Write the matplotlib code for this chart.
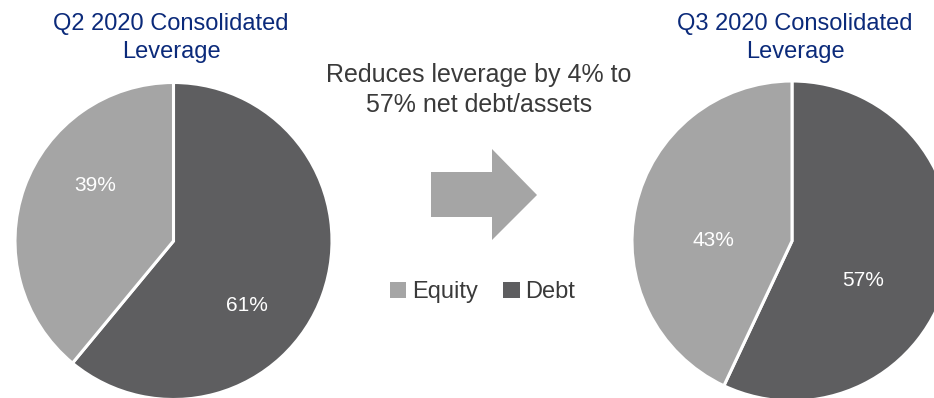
import matplotlib
matplotlib.use("Agg")
import matplotlib.pyplot as plt
from matplotlib.patches import Polygon, Patch

plt.rcParams['font.family'] = ['Liberation Sans', 'DejaVu Sans']

# Leverage split (percent of net debt/assets)
categories = ["Equity", "Debt"]
q2_values = [39, 61]
q3_values = [43, 57]
titles = ["Q2 2020 Consolidated\nLeverage", "Q3 2020 Consolidated\nLeverage"]
headline = "Reduces leverage by 4% to\n57% net debt/assets"

EQUITY_C = "#A5A5A5"
DEBT_C = "#5E5E60"
TITLE_C = "#0B2A7A"
TEXT_C = "#3A3A3A"

W, H = 934, 398
fig = plt.figure(figsize=(W / 100, H / 100), dpi=100)

# overlay axes in pixel units for the annotation graphics
over = fig.add_axes([0, 0, 1, 1])
over.set_xlim(0, W)
over.set_ylim(H, 0)
over.axis("off")


def pie_axes(cx, cy, r):
    return fig.add_axes([(cx - r) / W, (H - (cy + r)) / H, 2 * r / W, 2 * r / H])


def draw_pie(ax, values, label_pos):
    equity, debt = values
    ax.pie([debt, equity], colors=[DEBT_C, EQUITY_C], startangle=90,
           counterclock=False, radius=1,
           wedgeprops=dict(edgecolor="white", linewidth=2.2))
    ax.set_xlim(-1, 1)
    ax.set_ylim(-1, 1)
    for (x, y), v in zip(label_pos, [equity, debt]):
        ax.text(x, y, f"{v}%", color="white", fontsize=15,
                ha="center", va="center")


ax1 = pie_axes(173.5, 241, 158.5)
draw_pie(ax1, q2_values, [(-0.495, 0.353), (0.464, -0.404)])
ax2 = pie_axes(792, 241, 160)
draw_pie(ax2, q3_values, [(-0.494, 0.006), (0.444, -0.25)])

# titles above each pie
over.text(171, 38, titles[0], color=TITLE_C, fontsize=17, ha="center",
          va="center", linespacing=1.35)
over.text(795, 38, titles[1], color=TITLE_C, fontsize=17, ha="center",
          va="center", linespacing=1.35)

# headline between the pies
over.text(479, 90, headline, color=TEXT_C, fontsize=18, ha="center",
          va="center", linespacing=1.27)

# block arrow
arrow = Polygon([(431, 172), (492, 172), (492, 149), (537, 195),
                 (492, 240), (492, 217), (431, 217)],
                closed=True, facecolor=EQUITY_C, edgecolor="none")
over.add_patch(arrow)

# legend
handles = [Patch(facecolor=EQUITY_C, edgecolor="none"),
           Patch(facecolor=DEBT_C, edgecolor="none")]
fig.legend(handles, categories, loc="center", ncol=2, frameon=False,
           bbox_to_anchor=(482.5 / W, 1 - 292 / H), fontsize=17,
           handlelength=0.68, handleheight=0.68, handletextpad=0.25,
           columnspacing=1.1, labelcolor=TEXT_C, borderpad=0)

fig.savefig("out.png", dpi=100)
